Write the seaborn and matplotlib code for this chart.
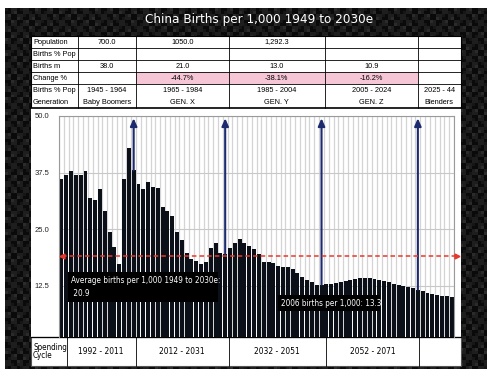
import numpy as np
import pandas as pd
import matplotlib
matplotlib.use("Agg")
import matplotlib.pyplot as plt
from matplotlib.patches import Rectangle
from matplotlib.colors import LinearSegmentedColormap
from matplotlib import font_manager
import seaborn as sns

W, H = 490, 378

# --- data ------------------------------------------------------------------
years = [str(y) for y in range(1949, 2031)]
births = [
    36.0, 36.9, 37.9, 36.9, 36.9, 37.9, 32.0, 31.5, 34.0, 29.0,   # 1949-58
    24.4, 21.0, 17.3, 36.0, 43.0, 38.0, 35.0, 34.0, 35.5, 34.4,   # 1959-68
    34.2, 29.9, 29.0, 27.9, 24.4, 22.6, 19.8, 18.4, 18.0, 17.4,   # 1969-78
    17.8, 20.9, 22.0, 19.8, 19.5, 20.9, 22.0, 22.9, 21.9, 21.3,   # 1979-88
    20.6, 19.5, 17.8, 17.8, 17.6, 16.9, 16.7, 16.7, 16.3, 15.3,   # 1989-98
    14.4, 13.9, 13.3, 12.8, 12.8, 13.0, 13.0, 13.1, 13.3, 13.5,   # 1999-2008
    13.8, 14.0, 14.2, 14.2, 14.2, 14.1, 13.9, 13.6, 13.3, 13.0,   # 2009-18
    12.8, 12.6, 12.3, 12.0, 11.7, 11.3, 11.0, 10.8, 10.6, 10.4,   # 2019-28
    10.2, 10.0,                                                   # 2029-30
]
arrow_years = ["1964", "1983", "2003", "2023"]
avg_line_level = 19.2
avg_label = "Average births per 1,000 1949 to 2030e:\n 20.9"
note_2006 = "2006 births per 1,000: 13.3"
y_ticks = [12.5, 25.0, 37.5, 50.0]

title = "China Births per 1,000 1949 to 2030e"
row_labels = ["Population", "Births % Pop", "Births m", "Change %", "Births % Pop", "Generation"]
population = ["700.0", "1050.0", "1,292.3", "", ""]
births_pct = ["", "", "", "", ""]
births_m = ["38.0", "21.0", "13.0", "10.9", ""]
change_pct = ["", "-44.7%", "-38.1%", "-16.2%", ""]
gen_years = ["1945 - 1964", "1965 - 1984", "1985 - 2004", "2005 - 2024", "2025 - 44"]
generations = ["Baby Boomers", "GEN. X", "GEN. Y", "GEN. Z", "Blenders"]
spending_label = "Spending\nCycle"
spending = ["1992 - 2011", "2012 - 2031", "2032 - 2051", "2052 - 2071", ""]

df = pd.DataFrame({"year": years, "births": births})

# --- styling / layout (pixels) ---------------------------------------------
PLAIN = ["Liberation Sans", "DejaVu Sans"]
installed = {f.name for f in font_manager.fontManager.ttflist}
if "Liberation Sans Narrow" in installed:
    NARROW = dict(family=["Liberation Sans Narrow", "DejaVu Sans"])
else:
    NARROW = dict(family=["DejaVu Sans"], fontstretch="condensed")
BAR_COLOR = "#0b0f17"
ARROW_COLOR = "#1d2b6e"
RED = "#e8372c"
PINK = "#f6c6d6"

top_cols = [31, 78, 136, 228.7, 325, 417.7, 461]
top_rows = [36, 48, 60, 72, 84, 96, 108]
bot_cols = [31, 66.7, 135.7, 228.7, 326, 419, 461]
bot_top, bot_bottom = 337, 366

sns.set_style("white")
plt.rcParams["font.family"] = PLAIN

fig = plt.figure(figsize=(W / 100, H / 100), dpi=100)

# background layer in pixel coords
bg = fig.add_axes([0, 0, 1, 1], zorder=0)
yy, xx = np.mgrid[0:121, 0:161]
tex = ((xx // 2 + yy // 2) % 2) * 0.55 + ((xx + 2 * yy) % 5 == 0) * 0.35
carbon = LinearSegmentedColormap.from_list("carbon", ["#0a0a0a", "#2b2b2b"])
bg.imshow(tex, cmap=carbon, extent=(5, 486, 369, 8), interpolation="nearest", aspect="auto")
bg.set_xlim(0, W)
bg.set_ylim(H, 0)
bg.axis("off")

# white panels
bg.add_patch(Rectangle((31, 36), 430, 72, fc="white", ec="black", lw=0.8))
bg.add_patch(Rectangle((31, 108), 430, bot_top - 108, fc="white", ec="none"))
bg.add_patch(Rectangle((31, bot_top), 430, bot_bottom - bot_top, fc="white", ec="#555555", lw=0.8))

# top table
bg.add_patch(Rectangle((top_cols[2], top_rows[3]), top_cols[5] - top_cols[2],
                       top_rows[4] - top_rows[3], fc=PINK, ec="none"))
for y in top_rows[1:5]:
    bg.plot([31, 461], [y, y], color="black", lw=0.6)
bg.plot([31, 461], [108, 108], color="black", lw=1.2)
for x in top_cols[1:-1]:
    bg.plot([x, x], [36, 108], color="black", lw=0.6)

table_rows = [population, births_pct, births_m, change_pct, gen_years, generations]
for r, (label, vals) in enumerate(zip(row_labels, table_rows)):
    yc = (top_rows[r] + top_rows[r + 1]) / 2
    bg.text(33, yc, label, fontsize=5.3, ha="left", va="center", color="black")
    for c, v in enumerate(vals):
        xc = (top_cols[c + 1] + top_cols[c + 2]) / 2
        bg.text(xc, yc, v, fontsize=5.3, ha="center", va="center", color="black")

# bottom table
for x in bot_cols[1:-1]:
    bg.plot([x, x], [bot_top, bot_bottom], color="black", lw=0.6)
bg.plot([31, 461], [bot_top, bot_top], color="black", lw=0.9)
yc = (bot_top + bot_bottom) / 2
bg.text(33, yc, spending_label, fontsize=5.8, ha="left", va="center",
        linespacing=1.0, color="black", **NARROW)
for c, v in enumerate(spending):
    xc = (bot_cols[c + 1] + bot_cols[c + 2]) / 2
    bg.text(xc, yc, v, fontsize=6, ha="center", va="center", color="black", **NARROW)

bg.text(259, 19, title, fontsize=9.6, color="white", ha="center", va="center", **NARROW)

# --- chart -----------------------------------------------------------------
ax = fig.add_axes([59 / W, 1 - 337 / H, 395 / W, 221 / H], zorder=2)
sns.barplot(data=df, x="year", y="births", color=BAR_COLOR, saturation=1,
            width=0.82, linewidth=0, ax=ax, zorder=2)

ax.set_xlim(-0.5, len(years) - 0.5)
ax.set_ylim(1.25, 50)
ax.set_axisbelow(True)
ax.set_xticks([])
ax.set_xticks(np.arange(-0.5, len(years), 1), minor=True)
ax.grid(which="minor", axis="x", color="#d4d4d4", lw=0.9)
ax.set_yticks(y_ticks)
ax.set_yticklabels([f"{v:.1f}" for v in y_ticks])
ax.yaxis.grid(True, color="#c8c8c8", lw=0.8)
ax.tick_params(axis="x", which="both", length=0, labelbottom=False)
ax.tick_params(axis="y", length=0, pad=7, labelsize=5.5, labelcolor="#222222")
ax.set_xlabel("")
ax.set_ylabel("")
for side in ["left", "top", "right"]:
    ax.spines[side].set_color("#9a9a9a")
    ax.spines[side].set_linewidth(0.8)
ax.spines["bottom"].set_visible(False)

# generation arrows rising from the bar tops
for yr in arrow_years:
    i = years.index(yr)
    ax.annotate("", xy=(i, 49.5), xytext=(i, births[i]),
                arrowprops=dict(arrowstyle="-|>,head_length=0.45,head_width=0.2",
                                color=ARROW_COLOR, lw=1.5, mutation_scale=10,
                                shrinkA=0, shrinkB=0),
                zorder=4)

# average line with arrowheads at both ends
tr = ax.get_yaxis_transform()
ax.plot([0.008, 1.005], [avg_line_level, avg_line_level], transform=tr, color=RED,
        lw=1.1, dashes=(3, 2), clip_on=False, zorder=5)
ax.plot([0.008], [avg_line_level], transform=tr, marker="<", ms=3.5, color=RED,
        clip_on=False, zorder=5)
ax.plot([1.008], [avg_line_level], transform=tr, marker=">", ms=3.5, color=RED,
        clip_on=False, zorder=5)

# --- annotation boxes on top ---------------------------------------------
top = fig.add_axes([0, 0, 1, 1], zorder=6)
top.set_xlim(0, W)
top.set_ylim(H, 0)
top.axis("off")
top.patch.set_alpha(0)
top.add_patch(Rectangle((68, 272), 150, 30, fc="black", ec="none"))
top.text(71, 287, avg_label, fontsize=5.9, color="white",
         ha="left", va="center", linespacing=1.45, **NARROW)
top.add_patch(Rectangle((278, 295), 102, 16, fc="black", ec="none"))
top.text(281, 303, note_2006, fontsize=5.9, color="white",
         ha="left", va="center", **NARROW)

fig.savefig("out.png", dpi=100)
